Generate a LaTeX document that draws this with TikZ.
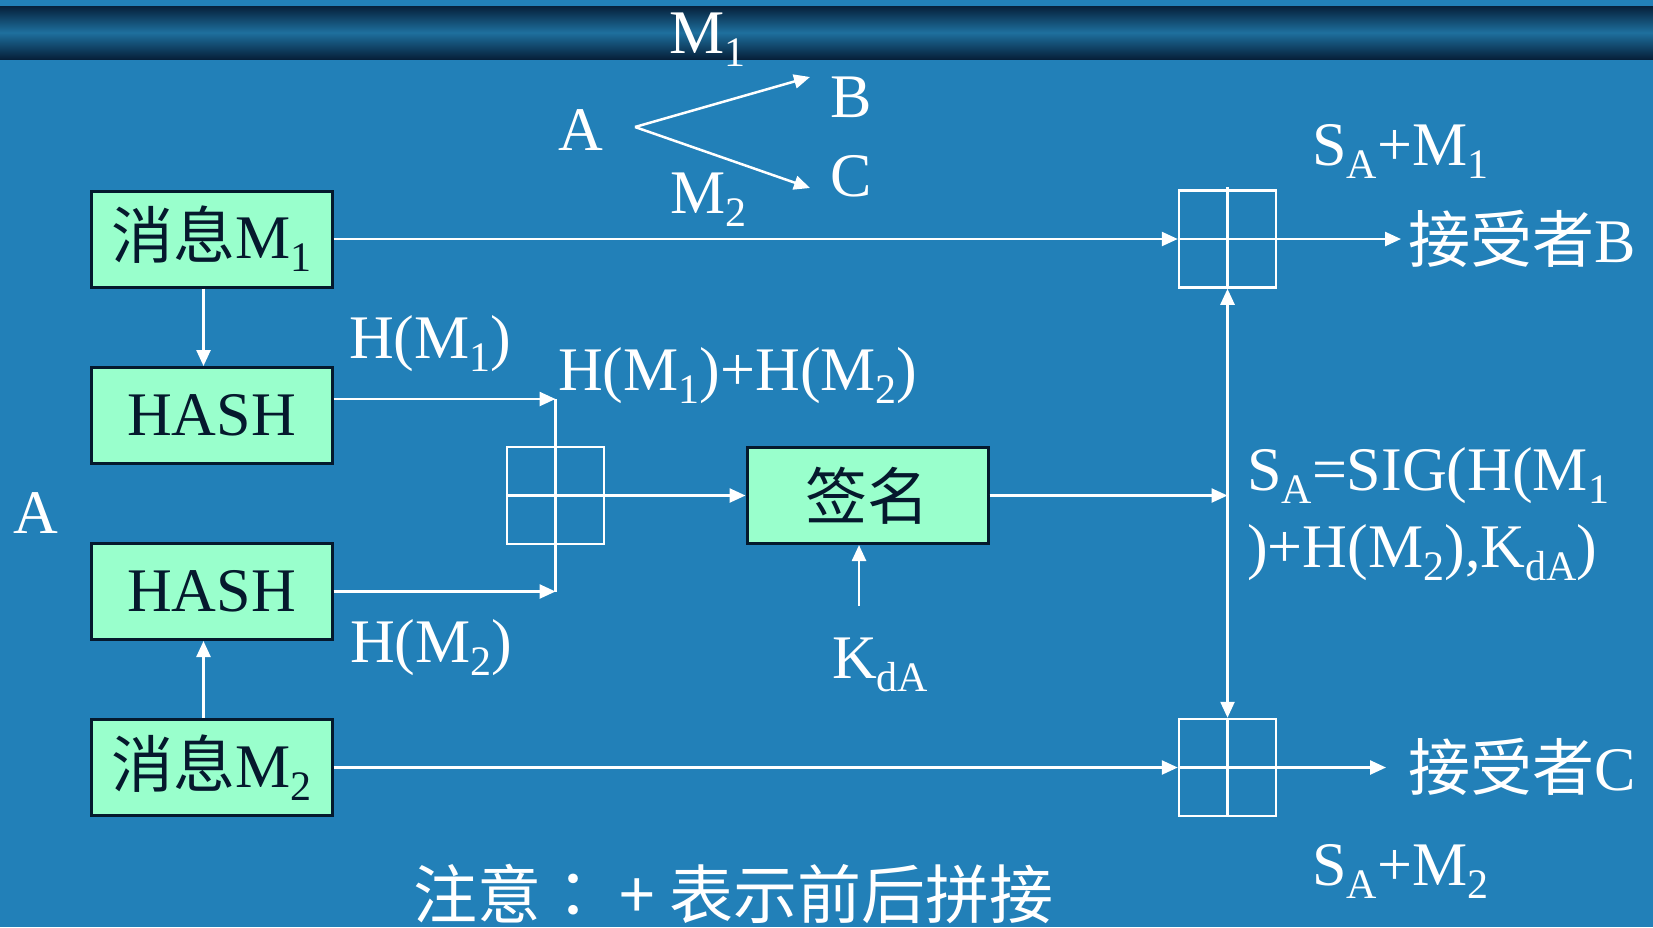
\documentclass[tikz,border=0pt]{standalone}
\usepackage{fontspec}
\usepackage{graphicx}
\setmainfont{Liberation Serif}
\newfontfamily\cjk{Noto Sans CJK SC}
\newfontfamily\cjktc{Noto Sans CJK TC}
\usetikzlibrary{arrows.meta}
\definecolor{bg}{RGB}{34,128,184}
\definecolor{mint}{RGB}{153,255,204}
\definecolor{navy}{RGB}{5,25,45}
\definecolor{bandD}{RGB}{6,32,58}
\definecolor{bandL}{RGB}{30,112,158}
\newcommand\fs{\fontsize{62}{70}\selectfont}
\newcommand\sbs[1]{\raisebox{-0.21em}{\fontsize{42}{42}\selectfont #1}}
\begin{document}
\begin{tikzpicture}[x=1pt,y=-1pt,
  lbl/.style={text=white,inner sep=0pt,anchor=base west,font=\fs},
  box/.style={draw=navy,line width=3pt,fill=mint,minimum width=241pt,minimum height=96pt,inner sep=0pt,text=navy,font=\fs},
  grid/.style={draw=white,line width=2.5pt,minimum width=97pt,minimum height=97pt,inner sep=0pt},
  wl/.style={draw=white,line width=2.5pt},
  arr/.style={wl,-{Triangle[length=16pt,width=14pt]}},
  arrb/.style={wl,{Triangle[length=16pt,width=14pt]}-{Triangle[length=16pt,width=14pt]}}
]
\fill[bg] (0,0) rectangle (1653,927);
\useasboundingbox (0,0) rectangle (1653,927);
\shade[top color=bandD,bottom color=bandD,middle color=bandL] (0,6) rectangle (1653,59);

% boxes
\node[box] (m1) at (211.5,239) {{\cjk 消息}M\sbs{1}};
\node[box] (h1) at (211.5,415.5) {HASH};
\node[box] (h2) at (211.5,591.5) {HASH};
\node[box] (m2) at (211.5,767.5) {{\cjk 消息}M\sbs{2}};
\node[box] (sig) at (867.5,495.5) {\cjk 签名};

% concatenation boxes
\node[grid] (g0) at (555.5,495.5) {};
\node[grid] (gB) at (1227.5,239) {};
\node[grid] (gC) at (1227.5,767.5) {};
\draw[wl] ([yshift=2pt]gB.north) -- (gB.south) (gB.west) -- (gB.east);
\draw[wl] (gC.north) -- (gC.south) (gC.west) -- (gC.east);
\draw[wl] (g0.west) -- (g0.east);

% labels
\node[lbl] (tM1) at (669,53) {M\sbs{1}};
\node[lbl] (tA) at (558,150) {A};
\node[lbl] (tB) at (830,117) {B};
\node[lbl] (tC) at (830,196) {C};
\node[lbl] (tM2) at (670,213) {M\sbs{2}};
\node[lbl] (lh1) at (349,358) {H(M\sbs{1})};
\node[lbl] (lhh) at (558,390) {H(M\sbs{1})+H(M\sbs{2})};
\node[lbl] (lh2) at (350,662) {H(M\sbs{2})};
\node[lbl] (lA) at (13,533) {A};
\node[lbl] (kda) at (832,678) {K\sbs{dA}};
\node[lbl] (sm1) at (1312,165) {S\sbs{A}+M\sbs{1}};
\node[lbl] (sg1) at (1247,490) {S\sbs{A}=SIG(H(M\sbs{1}};
\node[lbl] (sg2) at (1247,567) {)+H(M\sbs{2}),K\sbs{dA})};
\node[lbl] (rB) at (1408,262) {{\cjk 接受者}B};
\node[lbl] (rC) at (1408,790) {{\cjk 接受者}C};
\node[lbl] (sm2) at (1312,885) {S\sbs{A}+M\sbs{2}};
\node[lbl,font=\cjk\fontsize{64}{70}\selectfont] (note) at (413,918) {注意{\cjktc ：} + 表示前后拼接};

% top A -> B, C
\coordinate (ap) at (635,127);
\coordinate (bt) at (810,77);
\coordinate (ct) at (810,188);
\draw[arr] (ap) -- (bt);
\draw[arr] (ap) -- (ct);

% connectors
\coordinate (j1) at (555.5,399);
\coordinate (j2) at (555.5,591.5);
\draw[arr] ([xshift=-8pt]m1.south) -- ([xshift=-8pt]h1.north);
\draw[arr] ([xshift=-8pt]m2.north) -- ([xshift=-8pt]h2.south);
\draw[arr] (h1.east |- j1) -- (j1);
\draw[arr] (h2.east) -- (j2);
\draw[wl] (j1) -- (j2);
\draw[arr] (g0.east) -- (sig.west);
\coordinate (kt) at (859,606);
\draw[arr] (kt) -- (kt |- sig.south);
\draw[arr] (sig.east) -- (gB.south |- sig.east);
\draw[arr] (m1.east) -- (gB.west);
\draw[arr] (m2.east) -- (gC.west);
\draw[arrb] (gB.south) -- (gC.north);
\draw[arr,shorten >=7pt] (gB.east) -- (gB.east -| rB.west);
\draw[arr,shorten >=22pt] (gC.east) -- (gC.east -| rC.west);
\end{tikzpicture}
\end{document}
